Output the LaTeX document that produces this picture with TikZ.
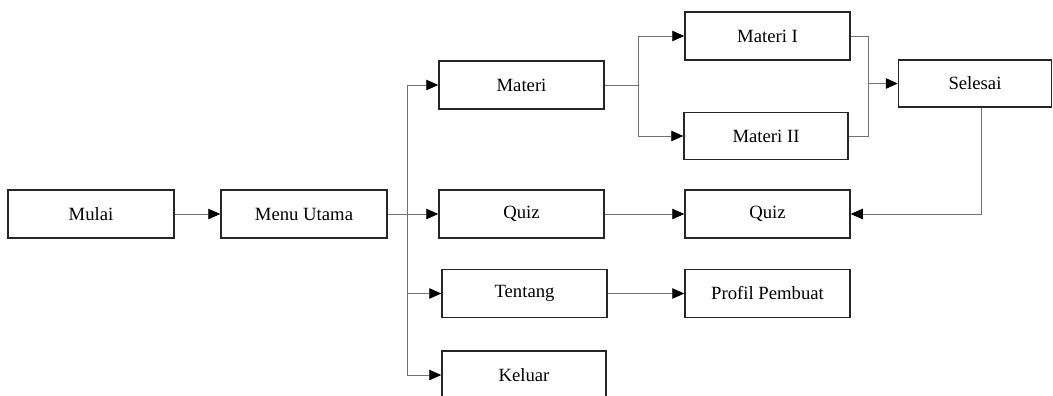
\documentclass[tikz,border=0pt]{standalone}
\usepackage{fontspec}
\setmainfont{Liberation Serif}
\usetikzlibrary{arrows.meta}

\tikzset{
  box/.style={draw=black!85, line width=1.5pt, fill=white, minimum width=165pt,
    minimum height=48pt, inner sep=0pt, font=\fontsize{18.7}{22}\selectfont},
  link/.style={draw=black!55, line width=0.9pt,
    -{Triangle[length=12pt, width=10.5pt, black]}},
  plain/.style={draw=black!55, line width=0.9pt}
}

\begin{document}
\begin{tikzpicture}[x=1pt, y=-1pt]
  \useasboundingbox (0,0) rectangle (1053,396);
  \clip (0,0) rectangle (1053,396);

  % menu boxes
  \node[box, minimum width=166pt] (mulai)   at (91,214)    {Mulai};
  \node[box, minimum width=166pt] (menu)    at (304,214)   {Menu Utama};
  \node[box] (materi)  at (521.5,85)   {Materi};
  \node[box] (quiz)    at (521.5,214)  {Quiz};
  \node[box] (tentang) at (524.5,293.5) {Tentang};
  \node[box, minimum width=164pt] (keluar)  at (524,375)   {Keluar};
  \node[box] (materi1) at (767.5,36)   {Materi I};
  \node[box, minimum width=164pt, minimum height=47pt] (materi2) at (766,136) {Materi II};
  \node[box, minimum width=153pt, minimum height=47pt] (selesai) at (975,83.5) {Selesai};
  \node[box] (quiz2)   at (767.5,214)  {Quiz};
  \node[box] (profil)  at (767.5,293.5) {Profil Pembuat};

  % routing columns
  \coordinate (bus)   at (407,0);
  \coordinate (fork)  at (638,0);
  \coordinate (merge) at (868,0);
  \coordinate (drop)  at (981,0);

  % start to main menu
  \draw[link] (mulai.east) -- (menu.west);

  % main menu branches
  \draw[plain] (menu.east) -- (menu.east -| bus);
  \draw[plain] (materi.west -| bus) -- (keluar.west -| bus);
  \draw[link] (materi.west -| bus) -- (materi.west);
  \draw[link] (quiz.west -| bus) -- (quiz.west);
  \draw[link] (tentang.west -| bus) -- (tentang.west);
  \draw[link] (keluar.west -| bus) -- (keluar.west);

  % learning material
  \draw[plain] (materi.east) -- (materi.east -| fork);
  \draw[link] (materi.east -| fork) |- (materi1.west);
  \draw[link] (materi.east -| fork) |- (materi2.west);
  \draw[plain] (materi1.east) -- (materi1.east -| merge) -- (materi2.east -| merge) -- (materi2.east);
  \draw[link] (selesai.west -| merge) -- (selesai.west);

  % after the material, on to the quiz
  \draw[link] (selesai.south -| drop) |- (quiz2.east);

  % other branches
  \draw[link] (quiz.east) -- (quiz2.west);
  \draw[link] (tentang.east) -- (profil.west);
\end{tikzpicture}
\end{document}
